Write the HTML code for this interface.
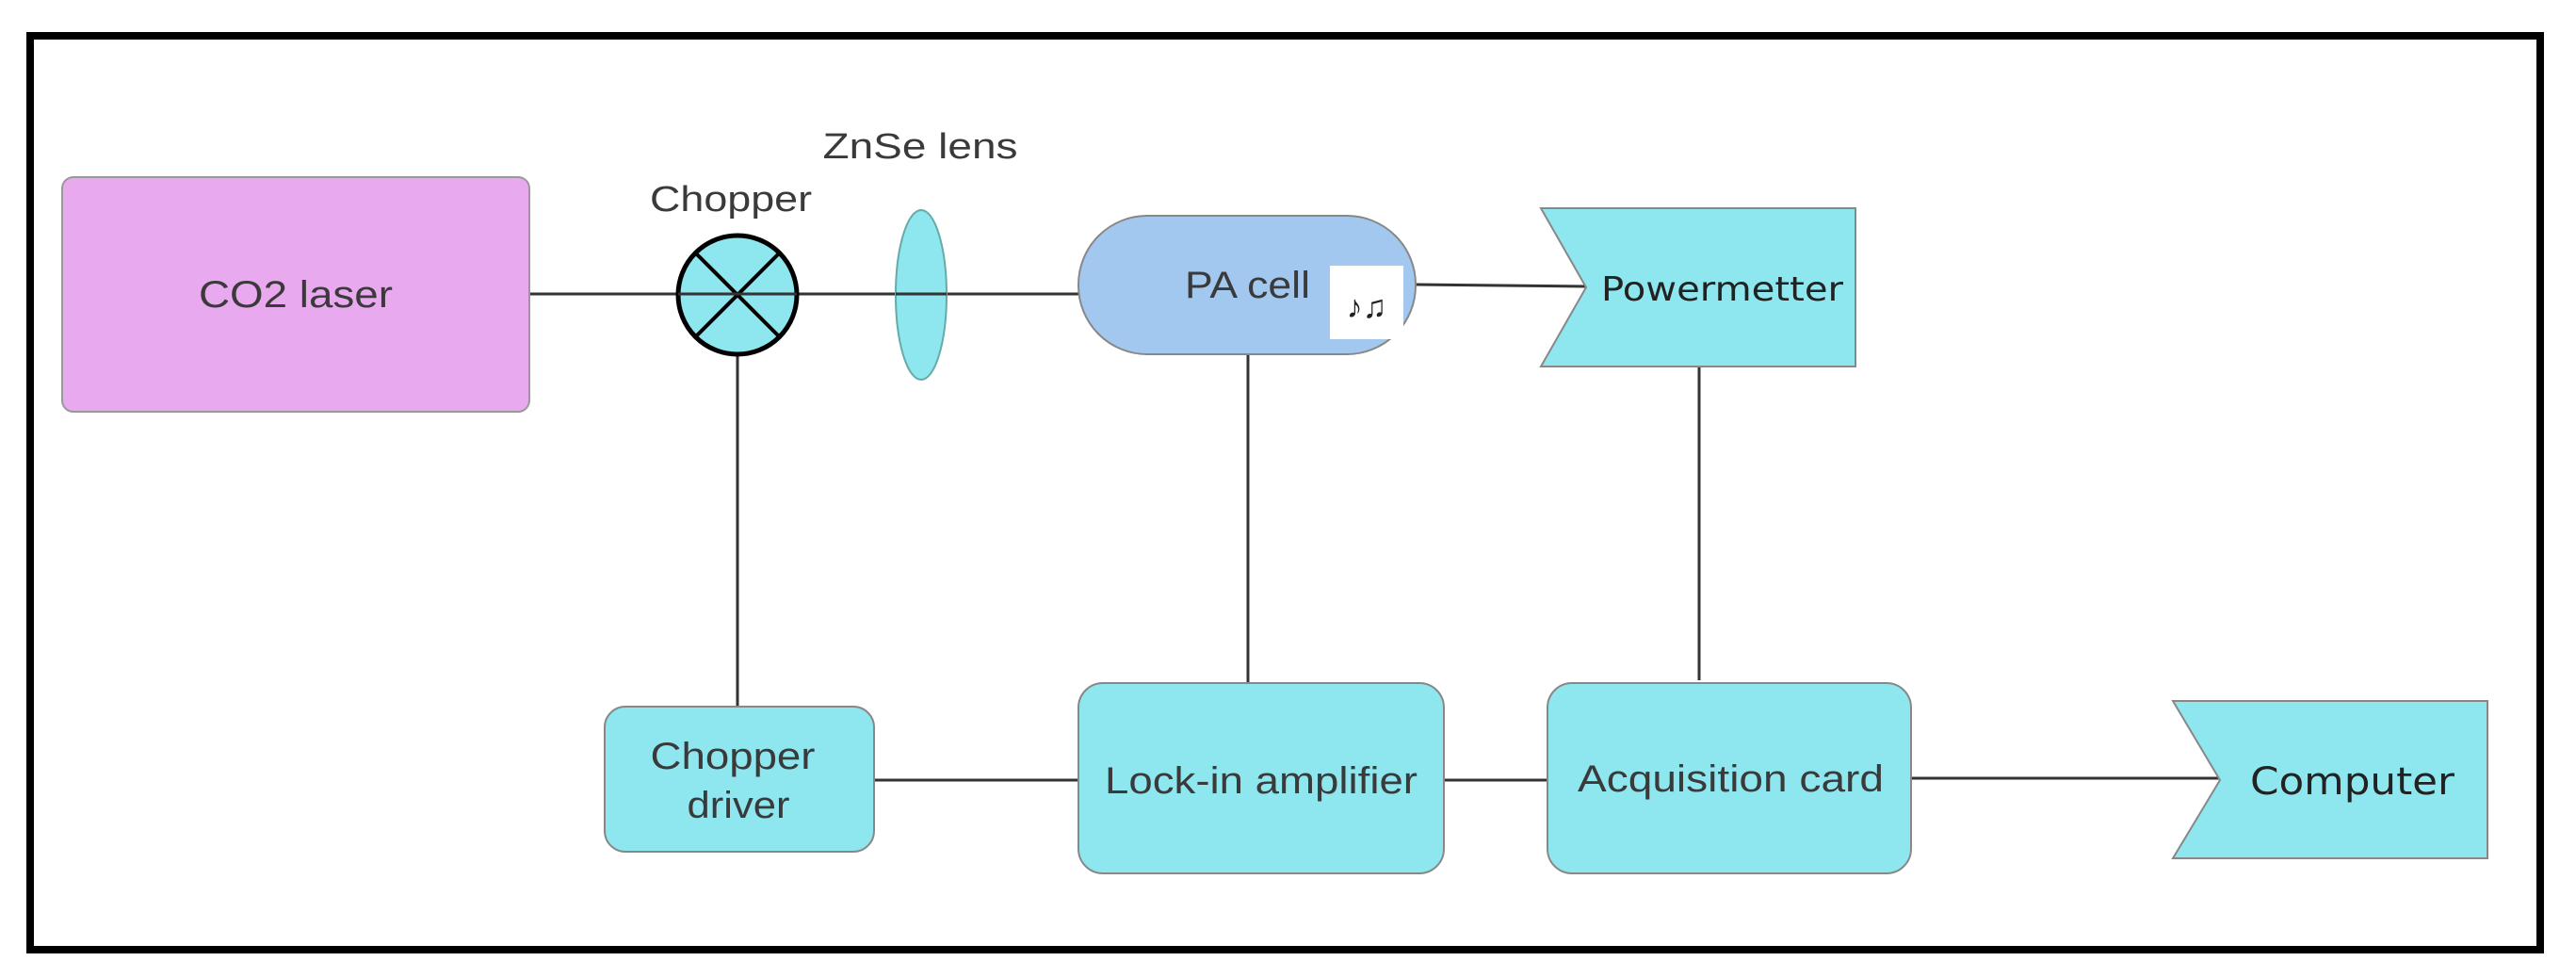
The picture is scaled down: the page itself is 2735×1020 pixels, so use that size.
<!DOCTYPE html>
<html><head><meta charset="utf-8"><style>
html,body{margin:0;padding:0;background:#fff;}
svg{display:block;}
text{font-family:"Liberation Sans",sans-serif;fill:#3a3a3a;}
.v{font-family:"DejaVu Sans","Liberation Sans",sans-serif;fill:#222;}
</style></head><body>
<svg width="2735" height="1020" viewBox="0 0 2735 1020" xmlns="http://www.w3.org/2000/svg">
<rect x="0" y="0" width="2735" height="1020" fill="#fff"/>
<rect x="32" y="38" width="2665" height="970" fill="none" stroke="#000" stroke-width="8"/>
<!-- connectors -->
<g stroke="#333" stroke-width="3" fill="none">
<line x1="562" y1="312" x2="1145" y2="312"/>
<line x1="783" y1="376" x2="783" y2="750"/>
<line x1="1503" y1="302" x2="1684" y2="304"/>
<line x1="1325" y1="376" x2="1325" y2="725"/>
<line x1="1804" y1="389" x2="1804" y2="722"/>
<line x1="928" y1="828" x2="1145" y2="828"/>
<line x1="1533" y1="828" x2="1643" y2="828"/>
<line x1="2029" y1="826" x2="2357" y2="826"/>
</g>
<!-- CO2 laser -->
<rect x="66" y="188" width="496" height="249" rx="12" fill="#e9a9ee" stroke="#999" stroke-width="2"/>
<text x="314" y="326" font-size="40" text-anchor="middle" textLength="206" lengthAdjust="spacingAndGlyphs">CO2 laser</text>
<!-- Chopper -->
<circle cx="783" cy="313" r="63" fill="#8ee6ee" stroke="#000" stroke-width="5"/>
<line x1="738" y1="268" x2="828" y2="358" stroke="#000" stroke-width="4"/>
<line x1="828" y1="268" x2="738" y2="358" stroke="#000" stroke-width="4"/>
<line x1="720" y1="312" x2="846" y2="312" stroke="#333" stroke-width="3"/>
<text x="776" y="224" font-size="38" text-anchor="middle" textLength="172" lengthAdjust="spacingAndGlyphs">Chopper</text>
<!-- lens -->
<ellipse cx="978" cy="313" rx="27" ry="90" fill="#8ee6ee" stroke="#6aa" stroke-width="2"/>
<line x1="951" y1="312" x2="1005" y2="312" stroke="#333" stroke-width="3"/>
<text x="977" y="168" font-size="38" text-anchor="middle" textLength="207" lengthAdjust="spacingAndGlyphs">ZnSe lens</text>
<!-- PA cell -->
<rect x="1145" y="229" width="358" height="147" rx="73" fill="#a2c8ef" stroke="#888" stroke-width="2"/>
<text x="1258" y="316" font-size="40" textLength="133" lengthAdjust="spacingAndGlyphs">PA cell</text>
<rect x="1412" y="282" width="78" height="78" fill="#fff"/>
<text x="1451" y="337" font-size="34" text-anchor="middle" style="fill:#222" font-family="DejaVu Sans">♪♫</text>
<!-- Powermetter -->
<polygon points="1636,221 1970,221 1970,389 1636,389 1684,305" fill="#8ee6ee" stroke="#888" stroke-width="2"/>
<text class="v" x="1700" y="319" font-size="36" textLength="257" lengthAdjust="spacingAndGlyphs">Powermetter</text>
<!-- Chopper driver -->
<rect x="642" y="750" width="286" height="154" rx="22" fill="#8ee6ee" stroke="#888" stroke-width="2"/>
<text x="778" y="816" font-size="40" text-anchor="middle" textLength="175" lengthAdjust="spacingAndGlyphs">Chopper</text>
<text x="784" y="868" font-size="40" text-anchor="middle" textLength="109" lengthAdjust="spacingAndGlyphs">driver</text>
<!-- Lock-in -->
<rect x="1145" y="725" width="388" height="202" rx="26" fill="#8ee6ee" stroke="#888" stroke-width="2"/>
<text x="1173" y="842" font-size="40" textLength="332" lengthAdjust="spacingAndGlyphs">Lock-in amplifier</text>
<!-- Acquisition -->
<rect x="1643" y="725" width="386" height="202" rx="26" fill="#8ee6ee" stroke="#888" stroke-width="2"/>
<text x="1675" y="840" font-size="40" textLength="325" lengthAdjust="spacingAndGlyphs">Acquisition card</text>
<!-- Computer -->
<polygon points="2307,744 2641,744 2641,911 2307,911 2357,828" fill="#8ee6ee" stroke="#888" stroke-width="2"/>
<text class="v" x="2389" y="843" font-size="40" textLength="217" lengthAdjust="spacingAndGlyphs">Computer</text>
</svg>
</body></html>
